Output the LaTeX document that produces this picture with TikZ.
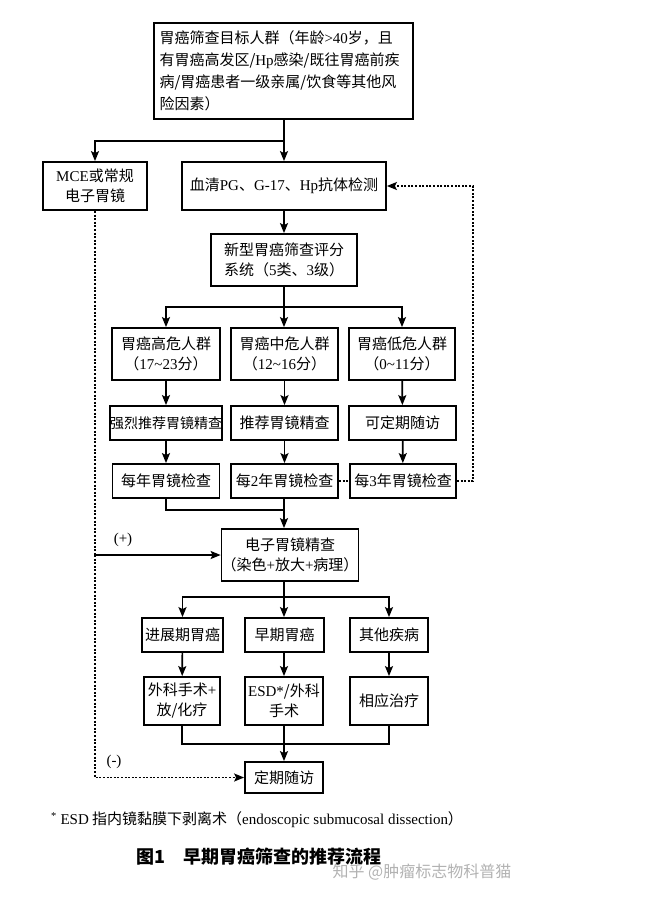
\documentclass[tikz,border=0pt]{standalone}
\usepackage{fontspec}
\setmainfont{Liberation Serif}
\newfontfamily\cjk{Noto Sans CJK SC}
\newfontfamily\latfont{Liberation Serif}
\newcommand\lat[1]{{\latfont #1}}
\usetikzlibrary{arrows.meta}
\begin{document}
\begin{tikzpicture}[x=1pt,y=-1pt,
  box/.style={draw,line width=1.8pt,inner sep=0pt,align=center,font=\cjk\fontsize{15}{20}\selectfont},
  link/.style={line width=1.7pt},
  arr/.style={link,-{Stealth[length=10pt,width=8pt,inset=2pt]}},
  dotline/.style={line width=1.6pt,dash pattern=on 2pt off 1.6pt}]
\useasboundingbox (0,0) rectangle (664,900);
% boxes
\node[box,minimum width=259,minimum height=96,text width=248,align=left,font=\cjk\fontsize{15}{22}\selectfont] (target) at (283.5,71)
  {胃癌筛查目标人群（年龄\lat{>40}岁，且\\有胃癌高发区/\lat{Hp}感染/既往胃癌前疾\\病/胃癌患者一级亲属/饮食等其他风\\险因素）};
\node[box,minimum width=104,minimum height=48] (mce) at (95,186) {\lat{MCE}或常规\\电子胃镜};
\node[box,minimum width=204,minimum height=48] (serum) at (284,186) {血清\lat{PG}、\lat{G-17}、\lat{Hp}抗体检测};
\node[box,minimum width=146,minimum height=52] (score) at (284,260) {新型胃癌筛查评分\\系统（\lat{5}类、\lat{3}级）};
\node[box,minimum width=108,minimum height=52] (high) at (166,354) {胃癌高危人群\\（\lat{17\textasciitilde 23}分）};
\node[box,minimum width=107,minimum height=52] (mid) at (284.5,354) {胃癌中危人群\\（\lat{12\textasciitilde 16}分）};
\node[box,minimum width=106,minimum height=52] (low) at (402,354) {胃癌低危人群\\（\lat{0\textasciitilde 11}分）};
\node[box,minimum width=109,minimum height=34,font=\cjk\fontsize{14}{20}\selectfont] (highrec) at (166,423) {强烈推荐胃镜精查};
\node[box,minimum width=107,minimum height=34] (midrec) at (284.5,423) {推荐胃镜精查};
\node[box,minimum width=107,minimum height=34] (lowrec) at (402.5,423) {可定期随访};
\node[box,minimum width=107,minimum height=34] (highyr) at (166,481) {每年胃镜检查};
\node[box,minimum width=107,minimum height=34] (midyr) at (284.5,481) {每\lat{2}年胃镜检查};
\node[box,minimum width=106,minimum height=34] (lowyr) at (403,481) {每\lat{3}年胃镜检查};
\node[box,minimum width=126,minimum height=52] (egd) at (290,555) {电子胃镜精查\\（染色\lat{+}放大\lat{+}病理）};
\node[box,minimum width=81,minimum height=34] (adv) at (182.5,635) {进展期胃癌};
\node[box,minimum width=79,minimum height=34] (early) at (284.5,635) {早期胃癌};
\node[box,minimum width=78,minimum height=34] (other) at (389,635) {其他疾病};
\node[box,minimum width=76,minimum height=48] (surg) at (182,701) {外科手术\lat{+}\\放/化疗};
\node[box,minimum width=78,minimum height=48] (esd) at (284,701) {\lat{ESD*}/外科\\手术};
\node[box,minimum width=78,minimum height=48] (treat) at (389,701) {相应治疗};
\node[box,minimum width=78,minimum height=31] (follow) at (284,777.5) {定期随访};
% junctions
\coordinate (split1) at (284,141);
\coordinate (split2) at (284,307);
\coordinate (merge1) at (284,510);
\coordinate (split3) at (284,597);
\coordinate (merge2) at (284,744);
\coordinate (back) at (473,481);
% connectors
\draw[link] (target.south -| split1) -- (split1);
\draw[arr] (split1) -| (mce.north);
\draw[arr] (split1) -- (serum.north);
\draw[arr] (serum) -- (score);
\draw[link] (score.south) -- (split2);
\draw[arr] (split2) -| (high.north);
\draw[arr] (split2) -- (split2 |- mid.north);
\draw[arr] (split2) -| (low.north);
\draw[arr] (high) -- (highrec);
\draw[arr] (mid) -- (midrec);
\draw[arr] (low) -- (lowrec);
\draw[arr] (highrec) -- (highyr);
\draw[arr] (midrec) -- (midyr);
\draw[arr] (lowrec) -- (lowyr);
\draw[dotline] (midyr.east) -- (lowyr.west);
\draw[dotline,-{Stealth[length=10pt,width=8pt,inset=2pt]}] (lowyr.east) -- (back) |- (serum.east);
\draw[link] (highyr.south) |- (merge1);
\draw[arr] (midyr.south -| merge1) -- (merge1 |- egd.north);
\draw[dotline] (mce.south) -- (mce.south |- egd.west);
\draw[arr] (mce.south |- egd.west) -- (egd.west);
\draw[dotline,-{Stealth[length=10pt,width=8pt,inset=2pt]}] (mce.south |- egd.west) |- (follow.west);
\draw[link] (egd.south -| split3) -- (split3);
\draw[arr] (split3) -| (adv.north);
\draw[arr] (split3) -- (early.north -| split3);
\draw[arr] (split3) -| (other.north);
\draw[arr] (adv) -- (surg);
\draw[arr] (early.south -| esd) -- (esd);
\draw[arr] (other) -- (treat);
\draw[link] (surg.south) |- (merge2) -| (treat.south);
\draw[link] (esd.south) -- (merge2);
\draw[arr] (merge2) -- (follow.north);
% labels
\node[font=\latfont\fontsize{15}{18}\selectfont] (plus) at (123,540) {(+)};
\node[font=\latfont\fontsize{15}{18}\selectfont] (minus) at (114,762) {(-)};
\node[font=\cjk\fontsize{15}{18}\selectfont] (note) at (257,820)
  {\lat{\textsuperscript{*} ESD} 指内镜黏膜下剥离术（\lat{endoscopic submucosal dissection}）};
\node[font=\cjk\bfseries\fontsize{18}{22}\selectfont] (caption) at (259,857) {图1\hspace{18pt}早期胃癌筛查的推荐流程};
\node[font=\cjk\fontsize{16}{20}\selectfont,text=black!30] (mark) at (422,872) {知乎 @肿瘤标志物科普猫};
\end{tikzpicture}
\end{document}
